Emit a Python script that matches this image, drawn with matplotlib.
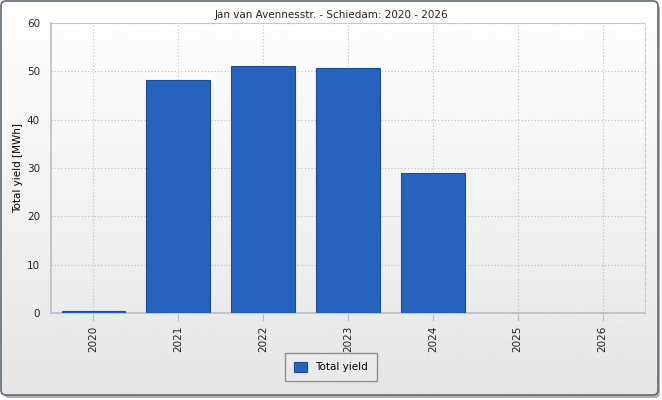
import matplotlib
matplotlib.use("Agg")
import matplotlib.pyplot as plt
import numpy as np
from matplotlib.patches import FancyBboxPatch

# data
years = ["2020", "2021", "2022", "2023", "2024", "2025", "2026"]
total_yield = [0.5, 48.2, 51.1, 50.7, 29.0, 0.0, 0.0]
title = "Jan van Avennesstr. - Schiedam: 2020 - 2026"

W, H = 662, 400
fig = plt.figure(figsize=(W / 100, H / 100), dpi=100)
fig.patch.set_facecolor("white")

# gradient panel background with rounded border
bg = fig.add_axes([0, 0, 1, 1], zorder=0)
bg.set_axis_off()
bg.set_xlim(0, W)
bg.set_ylim(H, 0)
grad = np.linspace(1.0, 0.9, 256).reshape(-1, 1)
img = bg.imshow(grad, cmap="gray", vmin=0, vmax=1, extent=[1, W - 4, H - 5, 1], aspect="auto")
shadow = FancyBboxPatch((4, 4), W - 6, H - 6, boxstyle="round,pad=0,rounding_size=5",
                        fc="#b0b0b0", ec="none", zorder=0)
bg.add_patch(shadow)
frame = FancyBboxPatch((1, 1), W - 5, H - 6, boxstyle="round,pad=0,rounding_size=5",
                       fc="none", ec="#5f6b78", lw=1.2, zorder=3)
bg.add_patch(frame)
img.set_clip_path(frame)
img.set_zorder(1)

# plot area: x 51..645, y 23..313 px
ax = fig.add_axes([51 / W, 1 - 313 / H, (645 - 51) / W, (313 - 23) / H], zorder=2)
ax.patch.set_alpha(0)

x = np.arange(len(years))
bars = ax.bar(x, total_yield, width=0.75, color="#2563be", edgecolor="#1c4d99", linewidth=0.8,
              label="Total yield", zorder=3)
for b, v in zip(bars, total_yield):
    if v == 0:
        b.set_visible(False)

ax.set_xlim(-0.5, len(years) - 0.5)
ax.set_ylim(0, 60)
ax.set_yticks(range(0, 61, 10))
ax.set_xticks(x)
ax.set_xticklabels(years, rotation=90)
ax.grid(True, color="#bfbfbf", linestyle=(0, (1, 2)), linewidth=0.8, zorder=1)
ax.tick_params(axis="both", labelsize=7.5, colors="#222222")
ax.tick_params(axis="x", length=6, color="#bfbfbf", width=0.8, pad=3)
ax.tick_params(axis="y", length=0, pad=8)
for s in ["left", "bottom"]:
    ax.spines[s].set_color("#b8bec6")
    ax.spines[s].set_linewidth(1.2)
ax.spines["top"].set_color("#c8c8c8")
ax.spines["right"].set_color("#c8c8c8")
ax.spines["right"].set_linestyle((0, (3, 2)))

ax.set_ylabel("Total yield [MWh]", fontsize=7.5, labelpad=3)
fig.text(331 / W, 1 - 15 / H, title, ha="center", va="center", fontsize=7.5, color="#222222")

leg = fig.legend(loc="center", bbox_to_anchor=(331 / W, 1 - 367 / H), fontsize=7.5,
                 frameon=True, fancybox=False, edgecolor="#6f7b88", facecolor="#ececec",
                 handlelength=1.2, handleheight=1.2, borderpad=0.85)
leg.get_frame().set_linewidth(1.0)

fig.savefig("out.png", dpi=100)
